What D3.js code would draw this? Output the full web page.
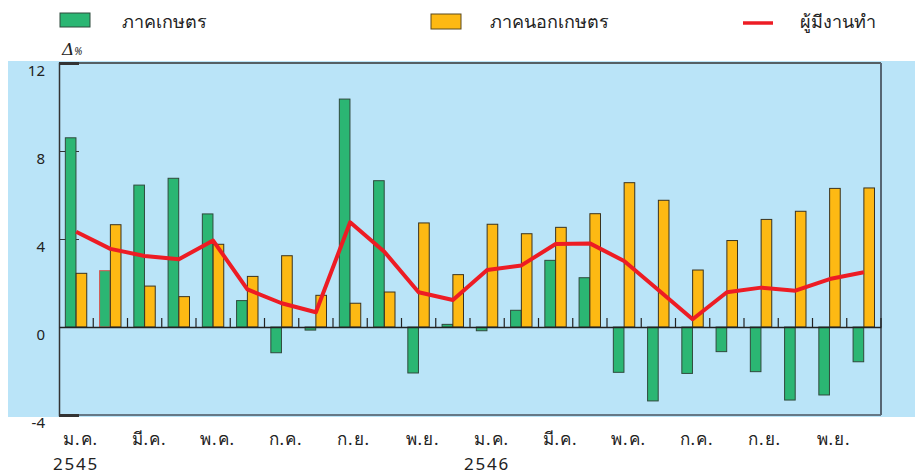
<!DOCTYPE html>
<html>
<head>
<meta charset="utf-8">
<script src="https://cdn.jsdelivr.net/npm/d3@7"></script>
<style>
  body { margin: 0; background: #fff; }
  text { font-family: "Noto Sans", "DejaVu Sans", sans-serif; fill: #222; }
</style>
</head>
<body>
<div id="chart"></div>
<script>
// months Jan 2545 .. Dec 2546
const monthNames = ["ม.ค.","ก.พ.","มี.ค.","เม.ย.","พ.ค.","มิ.ย.","ก.ค.","ส.ค.","ก.ย.","ต.ค.","พ.ย.","ธ.ค."];
const years = ["2545", "2546"];
const months = [];
years.forEach(y => monthNames.forEach(m => months.push(y + "-" + m)));

// % change
const agri = [8.6, 2.56, 6.45, 6.76, 5.14, 1.2, -1.17, -0.14, 10.36, 6.65, -2.09, 0.12,
              -0.17, 0.76, 3.03, 2.24, -2.06, -3.36, -2.11, -1.12, -2.03, -3.32, -3.09, -1.58];
const nonAgri = [2.44, 4.65, 1.86, 1.38, 3.76, 2.3, 3.24, 1.44, 1.08, 1.59, 4.73, 2.38,
                 4.67, 4.24, 4.53, 5.15, 6.56, 5.76, 2.59, 3.93, 4.89, 5.26, 6.3, 6.32];
const employed = [4.33, 3.55, 3.23, 3.08, 3.93, 1.71, 1.08, 0.67, 4.76, 3.42, 1.58, 1.23,
                  2.59, 2.8, 3.77, 3.8, 3.0, 1.68, 0.35, 1.58, 1.79, 1.65, 2.18, 2.49];
const yTicks = [-4, 0, 4, 8, 12];
const legendLabels = ["ภาคเกษตร", "ภาคนอกเกษตร", "ผู้มีงานทำ"];

const W = 915, H = 475;
const green = "#2bb673", orange = "#fdb913", red = "#ed1c24", bg = "#bae4f8";

const svg = d3.select("#chart").append("svg")
    .attr("width", W)
    .attr("height", H);

let mLeft = 59, mRight = 881, mTop = 63, mBottom = 415;

// light blue panel
svg.append("rect")
    .attr("x", 8).attr("y", 61)
    .attr("width", W - 8).attr("height", 356)
    .attr("fill", bg);

let x = d3.scaleBand().domain(months).range([mLeft, mRight]).padding(0);
let y = d3.scaleLinear().domain([-4, 12]).range([mBottom, mTop]);
let bw = x.bandwidth();
let barW = bw * 0.31;

// frame
svg.append("line").attr("x1", mLeft).attr("x2", mRight).attr("y1", mTop).attr("y2", mTop)
    .attr("stroke", "#333").attr("stroke-width", 1.5);
svg.append("line").attr("x1", mLeft).attr("x2", mRight).attr("y1", mBottom).attr("y2", mBottom)
    .attr("stroke", "#4a5560").attr("stroke-width", 1.5);
svg.append("line").attr("x1", mRight).attr("x2", mRight).attr("y1", mTop).attr("y2", mBottom)
    .attr("stroke", "#566674").attr("stroke-width", 2);

// y axis
let yAxis = svg.append("g")
    .attr("transform", `translate(${mLeft},0)`)
    .call(d3.axisRight(y).tickValues(yTicks).tickSize(20).tickFormat(""));
yAxis.select(".domain").attr("stroke", "#333").attr("stroke-width", 1.5);
yAxis.selectAll(".tick line").attr("stroke", "#333")
    .attr("stroke-width", d => (d === 12 || d === -4) ? 3 : 1);

svg.append("g").selectAll("text")
    .data(yTicks)
    .enter()
    .append("text")
    .attr("x", 45)
    .attr("y", d => y(d) + 13)
    .attr("text-anchor", "end")
    .attr("font-size", 15)
    .text(d => d);

// bars
svg.append("g").selectAll("rect")
    .data(agri)
    .enter()
    .append("rect")
    .attr("x", (d, i) => x(months[i]) + bw * 0.185)
    .attr("y", d => y(Math.max(0, d)))
    .attr("width", barW)
    .attr("height", d => Math.abs(y(d) - y(0)))
    .attr("fill", green)
    .attr("stroke", (d, i) => i === 1 ? "#d9534f" : "#2f4a3c")
    .attr("stroke-width", 1);

svg.append("g").selectAll("rect")
    .data(nonAgri)
    .enter()
    .append("rect")
    .attr("x", (d, i) => x(months[i]) + bw * 0.5)
    .attr("y", d => y(Math.max(0, d)))
    .attr("width", barW)
    .attr("height", d => Math.abs(y(d) - y(0)))
    .attr("fill", orange)
    .attr("stroke", "#3a3320")
    .attr("stroke-width", 1);

// zero line + month ticks
let xAxis = svg.append("g")
    .attr("transform", `translate(0,${y(0)})`)
    .call(d3.axisTop(x).tickSize(0).tickFormat(""));
xAxis.select(".domain").attr("stroke", "#222").attr("stroke-width", 1.5);

svg.append("g").selectAll("line")
    .data(months)
    .enter()
    .append("line")
    .attr("x1", d => x(d) + bw)
    .attr("x2", d => x(d) + bw)
    .attr("y1", y(0))
    .attr("y2", y(0) - 9)
    .attr("stroke", "#222")
    .attr("stroke-width", 1.2);

// employed line
let line = d3.line()
    .x((d, i) => x(months[i]) + bw * 0.5)
    .y(d => y(d));

svg.append("path")
    .datum(employed)
    .attr("d", line)
    .attr("fill", "none")
    .attr("stroke", red)
    .attr("stroke-width", 4)
    .attr("stroke-linejoin", "round");

// month labels, every other month
svg.append("g").selectAll("text")
    .data(months.filter((d, i) => i % 2 === 0))
    .enter()
    .append("text")
    .attr("x", d => x(d) + 4)
    .attr("y", 445)
    .attr("font-size", 17)
    .attr("letter-spacing", 1)
    .text(d => d.split("-")[1]);

svg.append("g").selectAll("text")
    .data(years)
    .enter()
    .append("text")
    .attr("x", d => x(d + "-ม.ค.") - 6)
    .attr("y", 470)
    .attr("font-size", 17)
    .attr("letter-spacing", 1.8)
    .text(d => d);

// delta % label
let dl = svg.append("text").attr("x", 62).attr("y", 55);
dl.append("tspan").attr("font-size", 17).attr("font-style", "italic").attr("font-family", "DejaVu Serif").text("Δ");
dl.append("tspan").attr("font-size", 10).attr("font-style", "italic").text("%");

// legend
let lg = svg.append("g");
lg.append("rect").attr("x", 60).attr("y", 13).attr("width", 30).attr("height", 14)
    .attr("fill", green).attr("stroke", "#2f4a3c");
lg.append("text").attr("x", 122).attr("y", 28).attr("font-size", 18).text(legendLabels[0]);
lg.append("rect").attr("x", 431).attr("y", 14).attr("width", 30).attr("height", 15)
    .attr("fill", orange).attr("stroke", "#5a4a20");
lg.append("text").attr("x", 490).attr("y", 28).attr("font-size", 18).text(legendLabels[1]);
lg.append("line").attr("x1", 743).attr("x2", 773).attr("y1", 23).attr("y2", 23)
    .attr("stroke", red).attr("stroke-width", 3.5);
lg.append("text").attr("x", 800).attr("y", 28).attr("font-size", 18).text(legendLabels[2]);
</script>
</body>
</html>
